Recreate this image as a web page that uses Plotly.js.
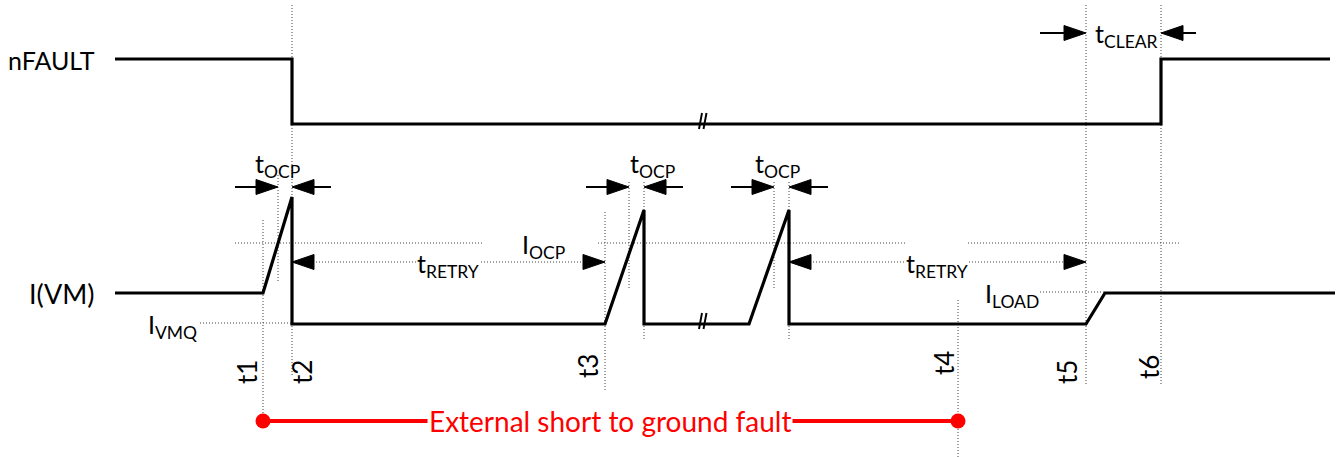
<!DOCTYPE html>
<html>
<head>
<meta charset="utf-8">
<script src="https://cdn.plot.ly/plotly-3.0.1.min.js"></script>
<style>html,body{margin:0;padding:0;background:#fff;}#chart{width:1338px;height:457px;}</style>
</head>
<body>
<div id="chart"></div>
<script>
// ---------- data (time axis left→right, level axis top→bottom) ----------
const eventLabels = ['t1', 't2', 't3', 't4', 't5', 't6'];
const eventTimes  = [263, 292, 605, 958, 1086, 1161];
const eventLineTop    = [220, 5, 212, 300, 5, 5];
const eventLineBottom = [430, 376, 392, 457, 384, 384];

// nFAULT waveform
const nfaultTime  = [115, 292, 292, 1161, 1161, 1330];
const nfaultLevel = [59, 59, 124, 124, 59, 59];

// I(VM) waveform
const ivmTime  = [115, 263, 292, 292, 605, 644, 644, 749, 789, 789, 1086, 1105, 1335];
const ivmLevel = [293, 293, 197, 324, 324, 210, 324, 324, 210, 324, 324, 293, 293];

// reference current levels
const levelIOCP  = 243;
const levelIVMQ  = 323;
const levelILOAD = 292;

// tOCP intervals (start marker, end)
const ocpStart = [278, 629, 774];
const ocpEnd   = [292, 644, 789];
const ocpMarkerTop = [175, 182, 182];
const ocpMarkerBottom = [283, 288, 288];
// tRETRY intervals
const retryStart = [292, 789];
const retryEnd   = [605, 1086];
// tCLEAR interval
const clearStart = 1086;
const clearEnd   = 1161;

// break marks position
const breakTime = [703, 703];
const breakLevel = [121, 321];

// fault span
const faultStart = 263;
const faultEnd = 958;
const faultLabel = 'External short to ground fault';

// ---------- construction ----------
const FONT = 'Lato, "Open Sans", sans-serif';
const traces = [];
const annotations = [];

function segTrace(segs, style) {
  const x = [], y = [];
  segs.forEach(s => { x.push(s[0], s[2], null); y.push(s[1], s[3], null); });
  return Object.assign({type: 'scatter', mode: 'lines', x, y, hoverinfo: 'skip', connectgaps: false}, style);
}

// dotted guides
const dots = [];
eventTimes.forEach((t, i) => dots.push([t, eventLineTop[i], t, eventLineBottom[i]]));
ocpStart.forEach((t, i) => dots.push([t, ocpMarkerTop[i], t, ocpMarkerBottom[i]]));
dots.push([ocpEnd[1], 182, ocpEnd[1], 340]);
dots.push([ocpEnd[2], 182, ocpEnd[2], 340]);
dots.push([235, levelIOCP, 483, levelIOCP]);
dots.push([598, levelIOCP, 907, levelIOCP]);
dots.push([968, levelIOCP, 1181, levelIOCP]);
dots.push([200, levelIVMQ, eventTimes[1], levelIVMQ]);
dots.push([1040, levelILOAD, 1105, levelILOAD]);
const retryY = 262;
retryStart.forEach((s, i) => dots.push([s, retryY, retryEnd[i], retryY]));
traces.push(segTrace(dots, {line: {color: '#444', width: 1, dash: '1px,2px'}}));

// waveforms
traces.push({type: 'scatter', mode: 'lines', x: nfaultTime, y: nfaultLevel, hoverinfo: 'skip',
  line: {color: '#000', width: 3.2, shape: 'linear'}});
traces.push({type: 'scatter', mode: 'lines', x: ivmTime, y: ivmLevel, hoverinfo: 'skip',
  line: {color: '#000', width: 3.2, shape: 'linear'}});

// break marks
const brk = [];
breakTime.forEach((t, i) => {
  const y = breakLevel[i];
  brk.push([t - 4, y + 8, t - 1, y - 8]);
  brk.push([t + 0.5, y + 8, t + 3.5, y - 8]);
});
traces.push(segTrace(brk, {line: {color: '#000', width: 2}}));

// arrowheads and arrow tails
const HEAD_L = 22, HEAD_H = 7.5;
const tails = [];
function head(tipX, y, dir) { // dir = +1 points right, -1 points left
  const bx = tipX - dir * HEAD_L;
  traces.push({type: 'scatter', mode: 'lines', x: [tipX, bx, bx, tipX], y: [y, y - HEAD_H, y + HEAD_H, y],
    fill: 'toself', fillcolor: '#000', line: {color: '#000', width: 1}, hoverinfo: 'skip'});
}
function inwardArrows(s, e, y, tailL, tailR) {
  head(s, y, 1); head(e, y, -1);
  tails.push([s - tailL, y, s - HEAD_L + 2, y]);
  tails.push([e + HEAD_L - 2, y, e + tailR, y]);
}
const ocpY = 187;
ocpStart.forEach((s, i) => inwardArrows(s, ocpEnd[i], ocpY, 43, 39));
inwardArrows(clearStart, clearEnd, 33, 46, 35);
retryStart.forEach((s, i) => { head(s, retryY, -1); head(retryEnd[i], retryY, 1); });
traces.push(segTrace(tails, {line: {color: '#000', width: 2}}));

// fault span (red)
traces.push({type: 'scatter', mode: 'lines+markers', x: [faultStart, faultEnd], y: [421, 421], hoverinfo: 'skip',
  line: {color: '#FF0000', width: 4}, marker: {color: '#FF0000', size: 15, symbol: 'circle'}});

// ---------- text ----------
function txt(text, x, y, opts) {
  annotations.push(Object.assign({text, x, y, xref: 'x', yref: 'y', showarrow: false,
    font: {family: FONT, size: 25, color: '#000'}, xanchor: 'center', yanchor: 'middle'}, opts || {}));
}
txt('nFAULT', 97, 60, {xanchor: 'right', font: {family: FONT, size: 25, color: '#000'}});
txt('I(VM)', 97, 293, {xanchor: 'right', font: {family: FONT, size: 27, color: '#000'}});
txt('I<sub>VMQ</sub>', 199, 326, {xanchor: 'right'});
txt('I<sub>LOAD</sub>', 1041, 295, {xanchor: 'right'});
txt('I<sub>OCP</sub>', 543, 246);
const ocpTextX = [277, 652, 777];
ocpTextX.forEach(x => txt('t<sub>OCP</sub>', x, 165));
const retryTextX = [448, 937];
retryTextX.forEach(x => txt('t<sub>RETRY</sub>', x, 265, {bgcolor: '#fff', borderpad: 0}));
txt('t<sub>CLEAR</sub>', 1126, 35);
const eventTextX = [247, 302, 588, 944, 1067, 1149];
const eventTextY = [372, 372, 366, 363, 372, 367];
eventLabels.forEach((l, i) => txt(l, eventTextX[i], eventTextY[i], {textangle: -90, font: {family: FONT, size: 26, color: '#000'}}));
txt(faultLabel, (faultStart + faultEnd) / 2 - 1, 421, {bgcolor: '#fff', borderpad: 1,
  font: {family: FONT, size: 28, color: '#FF0000'}});

const layout = {
  width: 1338, height: 457,
  margin: {l: 0, r: 0, t: 0, b: 0, pad: 0},
  paper_bgcolor: '#fff', plot_bgcolor: '#fff',
  showlegend: false,
  xaxis: {range: [0, 1338], visible: false, fixedrange: true},
  yaxis: {range: [457, 0], visible: false, fixedrange: true},
  annotations
};
Plotly.newPlot('chart', traces, layout, {displayModeBar: false});
</script>
</body>
</html>
